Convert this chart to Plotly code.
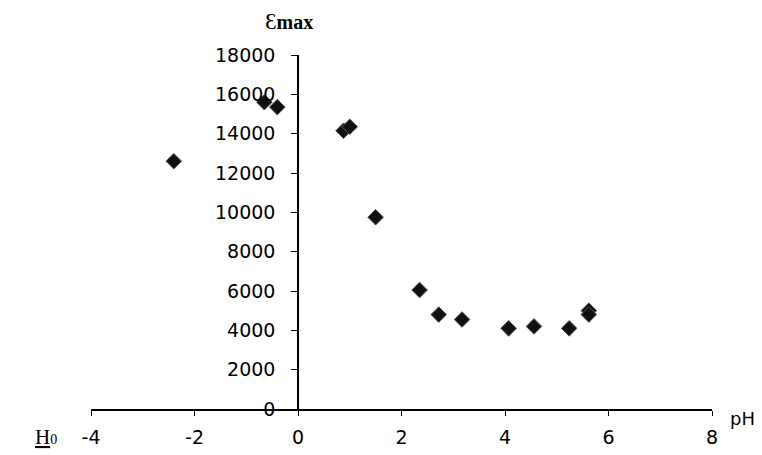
import plotly.graph_objects as go

ph = [-2.4, -0.65, -0.4, 0.88, 1.0, 1.5, 2.35, 2.72, 3.17, 4.07, 4.56, 5.24, 5.62, 5.62]
emax = [12600, 15600, 15350, 14150, 14350, 9750, 6050, 4800, 4550, 4100, 4200, 4100, 5000, 4800]
x_ticks = [-4, -2, 0, 2, 4, 6, 8]
x_labels = ["-4", "-2", "0", "2", "4", "6", "8"]
y_ticks = [0, 2000, 4000, 6000, 8000, 10000, 12000, 14000, 16000, 18000]
y_labels = [str(v) for v in y_ticks]

fig = go.Figure()
fig.add_trace(go.Scatter(
    x=ph, y=emax, mode="markers",
    marker=dict(symbol="diamond", size=12, color="#111111",
                line=dict(color="#555555", width=1)),
    showlegend=False, cliponaxis=False,
))

font = dict(family="DejaVu Sans, sans-serif", size=19, color="black")

fig.update_layout(
    width=754, height=447,
    margin=dict(l=83, r=50, t=47, b=46),
    paper_bgcolor="white", plot_bgcolor="white",
    font=font,
    xaxis=dict(range=[-4, 8], tickvals=x_ticks, ticktext=x_labels,
               showgrid=False, zeroline=False, automargin=False,
               showline=True, linecolor="black", linewidth=1.5,
               ticks="outside", ticklen=5, tickcolor="black",
               ticklabelstandoff=5, tickfont=font),
    yaxis=dict(range=[0, 18000], tickvals=y_ticks, ticktext=y_labels,
               showgrid=False, zeroline=False, automargin=False,
               showline=True, linecolor="black", linewidth=1.5,
               anchor="free", position=1/3,
               ticks="outside", ticklen=6, tickcolor="black",
               ticklabelstandoff=12, tickfont=font),
)

fig.add_annotation(xref="x", yref="paper", x=-0.65, y=1.0, yshift=47,
                   text="<span style='font-size:23px'>Ɛ</span><b>max</b>", showarrow=False,
                   font=dict(family="Liberation Serif, Times New Roman, serif", size=20, color="black"),
                   xanchor="left", yanchor="top", borderpad=0)
fig.add_annotation(xref="paper", yref="paper", x=1.0, y=0, xshift=16, yshift=-9,
                   text="pH", showarrow=False,
                   font=dict(family="DejaVu Sans, sans-serif", size=18, color="black"),
                   xanchor="left", yanchor="middle")
fig.add_annotation(xref="paper", yref="paper", x=0, y=0, xshift=-58, yshift=-28,
                   text="<u>H</u><span style='font-size:14px'>0</span>", showarrow=False,
                   font=dict(family="Liberation Serif, Times New Roman, serif", size=21, color="black"),
                   xanchor="left", yanchor="middle")

fig.write_html("out.html")
